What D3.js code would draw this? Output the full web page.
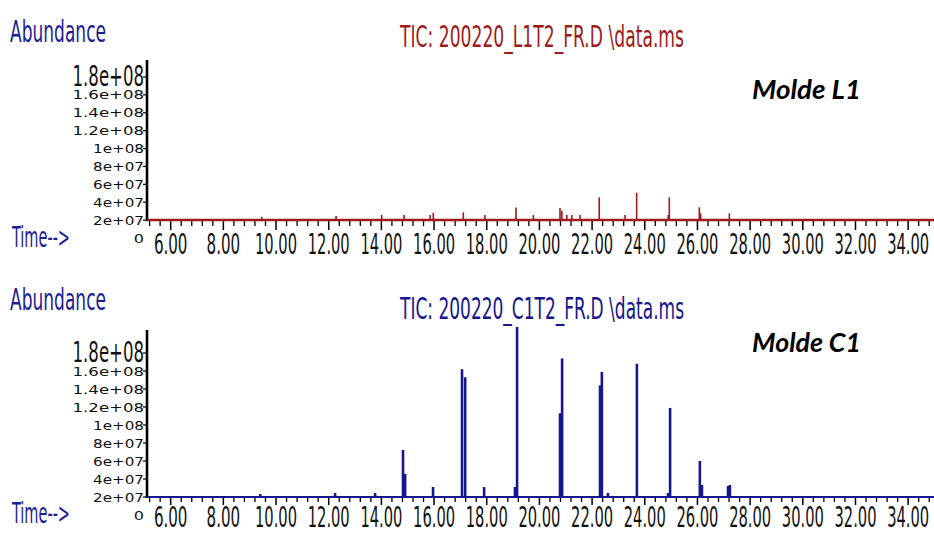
<!DOCTYPE html>
<html>
<head>
<meta charset="utf-8">
<script src="https://cdn.jsdelivr.net/npm/d3@7"></script>
<style>
  body { margin: 0; background: #fff; }
  svg { display: block; }
  text { font-family: "DejaVu Sans Condensed", "Liberation Sans Narrow", "DejaVu Sans", sans-serif; }
</style>
</head>
<body>
<svg></svg>
<script>
var width = 934;
var height = 536;

// axis ticks
var xTickValues = [6, 8, 10, 12, 14, 16, 18, 20, 22, 24, 26, 28, 30, 32, 34];
var xTickLabels = ["6.00", "8.00", "10.00", "12.00", "14.00", "16.00", "18.00", "20.00",
  "22.00", "24.00", "26.00", "28.00", "30.00", "32.00", "34.00"];
var yTickValues = [0, 2e7, 4e7, 6e7, 8e7, 1e8, 1.2e8, 1.4e8, 1.6e8, 1.8e8];
var yTickLabels = ["0", "2e+07", "4e+07", "6e+07", "8e+07", "1e+08", "1.2e+08", "1.4e+08", "1.6e+08", "1.8e+08"];

// TIC baseline (abundance) for each run
var l1Baseline = 2.0e7;
var c1Baseline = 2.0e7;

// Molde L1 peaks: retention time (min) and abundance
var l1Times = [9.48, 12.3, 14.03, 14.88, 15.87, 15.99, 17.13, 17.95, 19.13, 19.79, 20.8, 20.87,
  21.06, 21.25, 21.56, 22.29, 23.27, 23.71, 24.91, 24.95, 26.09, 26.14, 27.23];
var l1Heights = [2.38e7, 2.46e7, 2.57e7, 2.57e7, 2.57e7, 2.83e7, 2.87e7, 2.57e7, 3.41e7, 2.57e7, 3.35e7, 3.05e7,
  2.57e7, 2.57e7, 2.57e7, 4.55e7, 2.57e7, 5.06e7, 2.57e7, 4.55e7, 3.43e7, 2.76e7, 2.76e7];

// Molde C1 peaks
var c1Times = [9.42, 12.26, 13.78, 14.84, 14.92, 15.98, 17.08, 17.2, 17.92, 19.09, 19.17, 20.8,
  20.88, 22.32, 22.39, 22.62, 23.72, 24.9, 24.98, 26.11, 26.19, 27.18, 27.25];
var c1Heights = [2.33e7, 2.44e7, 2.44e7, 7.22e7, 4.56e7, 3.11e7, 1.62e8, 1.53e8, 3.11e7, 3.11e7, 2.09e8, 1.13e8,
  1.74e8, 1.44e8, 1.59e8, 2.44e7, 1.68e8, 2.44e7, 1.19e8, 6.0e7, 3.33e7, 3.22e7, 3.33e7];

var blue = "#1c1c94";

var panels = [
  {title: "TIC: 200220_L1T2_FR.D \\data.ms", label: "Molde L1", color: "#9e1b1b",
   times: l1Times, heights: l1Heights, base: l1Baseline,
   zeroY: 238, topY: 77, axisTop: 60, abundY: 42, titleY: 47, timeY: 247, xLabelY: 254,
   moldeY: 99, shortTick: 5, longTick: 9, peakWidth: 1.6, baseWidth: 2.5},
  {title: "TIC: 200220_C1T2_FR.D \\data.ms", label: "Molde C1", color: "#16168e",
   times: c1Times, heights: c1Heights, base: c1Baseline,
   zeroY: 515, topY: 353, axisTop: 330, abundY: 310, titleY: 319, timeY: 523, xLabelY: 527,
   moldeY: 352, shortTick: 4, longTick: 7, peakWidth: 2.6, baseWidth: 2.2}
];

var svg = d3.select("svg")
  .attr("width", width)
  .attr("height", height);

var x = d3.scaleLinear()
  .domain([5.12, 35])
  .range([147, 934]);

var minorTicks = d3.range(5.2, 35, 0.4).filter(function (t) {
  return Math.abs(t / 2 - Math.round(t / 2)) > 0.01;
});

panels.forEach(function (p) {
  var g = svg.append("g");

  var y = d3.scaleLinear()
    .domain([0, 1.8e8])
    .range([p.zeroY, p.topY]);

  var baseY = y(p.base);

  // header texts
  g.append("text")
    .attr("x", 10).attr("y", p.abundY)
    .attr("font-size", 30)
    .attr("textLength", 96).attr("lengthAdjust", "spacingAndGlyphs")
    .attr("fill", blue)
    .text("Abundance");

  g.append("text")
    .attr("x", 400).attr("y", p.titleY)
    .attr("font-size", 31)
    .attr("textLength", 284).attr("lengthAdjust", "spacingAndGlyphs")
    .attr("fill", p.color)
    .text(p.title);

  g.append("text")
    .attr("x", 12).attr("y", p.timeY)
    .attr("font-size", 29)
    .attr("textLength", 58).attr("lengthAdjust", "spacingAndGlyphs")
    .attr("fill", blue)
    .text("Time-->");

  g.append("text")
    .attr("x", 752).attr("y", p.moldeY)
    .style("font-family", "Lato, 'Open Sans', sans-serif")
    .attr("font-size", 26)
    .attr("font-weight", "bold")
    .attr("font-style", "italic")
    .attr("textLength", 109).attr("lengthAdjust", "spacingAndGlyphs")
    .attr("fill", "#000")
    .text(p.label);

  // y axis labels
  g.selectAll(".ylab")
    .data(yTickValues)
    .enter().append("text")
    .attr("class", "ylab")
    .attr("x", 144)
    .attr("y", function (d, i) { return i === yTickValues.length - 1 ? y(d) + 9 : y(d) + 4.5; })
    .attr("text-anchor", "end")
    .attr("font-size", function (d, i) { return i === yTickValues.length - 1 ? 28 : 12; })
    .attr("textLength", function (d, i) { return yTickLabels[i].length * 10.2; })
    .attr("lengthAdjust", "spacingAndGlyphs")
    .attr("fill", "#111")
    .text(function (d, i) { return yTickLabels[i]; });

  g.selectAll(".ytick")
    .data(yTickValues.slice(1))
    .enter().append("line")
    .attr("x1", 143).attr("x2", 147)
    .attr("y1", function (d) { return y(d); })
    .attr("y2", function (d) { return y(d); })
    .attr("stroke", "#000")
    .attr("stroke-width", 1.2);

  // y axis line
  g.append("line")
    .attr("x1", 147).attr("x2", 147)
    .attr("y1", p.axisTop).attr("y2", baseY + 1)
    .attr("stroke", "#000")
    .attr("stroke-width", 2.6);

  // x axis ticks
  g.append("g")
    .attr("transform", "translate(0," + (baseY + 1) + ")")
    .call(d3.axisBottom(x).tickValues(minorTicks).tickSize(p.shortTick).tickFormat(""))
    .call(function (a) { a.select(".domain").remove(); })
    .selectAll("line").attr("stroke-width", 1.3);

  var major = g.append("g")
    .attr("transform", "translate(0," + (baseY + 1) + ")")
    .call(d3.axisBottom(x).tickValues(xTickValues).tickSize(p.longTick)
      .tickFormat(function (d, i) { return xTickLabels[i]; }));
  major.select(".domain").remove();
  major.selectAll("line").attr("stroke-width", 1.5);
  major.selectAll("text")
    .attr("y", null).attr("dy", null)
    .attr("transform", "translate(0," + (p.xLabelY - baseY - 1) + ")")
    .attr("font-size", 29)
    .attr("textLength", function (d, i) { return xTickLabels[i].length * 8.4; })
    .attr("lengthAdjust", "spacingAndGlyphs")
    .attr("fill", "#111");

  // trace baseline
  g.append("line")
    .attr("x1", x(5.12)).attr("x2", x(35))
    .attr("y1", baseY).attr("y2", baseY)
    .attr("stroke", p.color)
    .attr("stroke-width", p.baseWidth);

  // peaks
  g.selectAll(".peak")
    .data(p.times)
    .enter().append("line")
    .attr("class", "peak")
    .attr("x1", function (d) { return x(d); })
    .attr("x2", function (d) { return x(d); })
    .attr("y1", baseY)
    .attr("y2", function (d, i) { return y(p.heights[i]); })
    .attr("stroke", p.color)
    .attr("stroke-width", p.peakWidth);
});
</script>
</body>
</html>
